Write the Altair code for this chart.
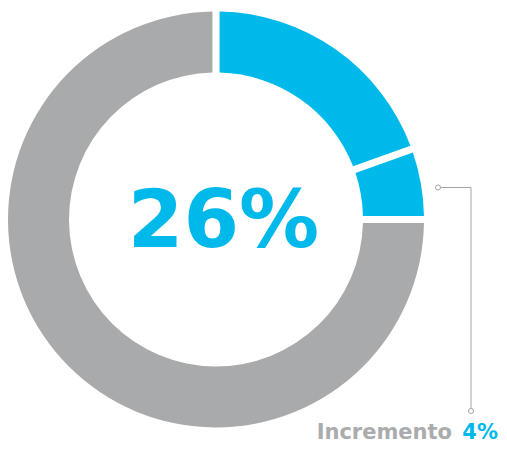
import altair as alt
import pandas as pd

segments = ["Base", "Incremento", "Resto"]
shares = [19.5, 5.5, 75.0]
seg_colors = ["#00B9EB", "#00B9EB", "#A8AAAB"]
center_label = ["26%"]
note_word = ["Incremento"]
note_value = ["4%"]

BLUE = "#00B9EB"
GRAY_TEXT = "#A9ABAD"
LINE_GRAY = "#A5A5A5"

W, H = 491, 436
cx, cy = 208, 211.5

df = pd.DataFrame({"segment": segments, "share": shares, "idx": list(range(len(segments)))})
one = pd.DataFrame({"a": [0]})

donut = alt.Chart(df).mark_arc(outerRadius=208, innerRadius=147, padAngle=0.028).encode(
    theta=alt.Theta("share:Q", stack=True),
    order=alt.Order("idx:Q", sort="ascending"),
    color=alt.Color("segment:N", scale=alt.Scale(domain=segments, range=seg_colors), legend=None),
    x=alt.value(cx),
    y=alt.value(cy),
)

center = alt.Chart(pd.DataFrame({"t": center_label})).mark_text(
    font="DejaVu Sans", fontWeight="bold", fontSize=80, color=BLUE,
    align="center", baseline="alphabetic",
).encode(text="t:N", x=alt.value(215.5), y=alt.value(239))

hline = alt.Chart(one).mark_rule(color=LINE_GRAY, strokeWidth=1).encode(
    x=alt.value(430), x2=alt.value(463), y=alt.value(179.5)
)
vline = alt.Chart(one).mark_rule(color=LINE_GRAY, strokeWidth=1).encode(
    x=alt.value(463), y=alt.value(179.5), y2=alt.value(403)
)
dots = alt.Chart(pd.DataFrame({"px": [430, 463], "py": [179.5, 403]})).mark_point(
    shape="circle", filled=True, fill="white", stroke=LINE_GRAY, strokeWidth=1, size=26, opacity=1
).encode(
    x=alt.X("px:Q", scale=alt.Scale(domain=[0, W], range=[0, W]), axis=None),
    y=alt.Y("py:Q", scale=alt.Scale(domain=[0, H], range=[0, H]), axis=None),
)

word = alt.Chart(pd.DataFrame({"t": note_word})).mark_text(
    font="DejaVu Sans", fontWeight="bold", fontSize=21, color=GRAY_TEXT,
    align="right", baseline="bottom",
).encode(text="t:N", x=alt.value(444), y=alt.value(435))

value = alt.Chart(pd.DataFrame({"t": note_value})).mark_text(
    font="DejaVu Sans", fontWeight="bold", fontSize=21, color=BLUE,
    align="right", baseline="bottom",
).encode(text="t:N", x=alt.value(490), y=alt.value(435))

chart = alt.layer(donut, center, hline, vline, dots, word, value).properties(
    width=W, height=H, padding=0, autosize="none"
).configure_view(stroke=None)

chart.save("out.html", embed_options={"renderer": "svg", "actions": False})
